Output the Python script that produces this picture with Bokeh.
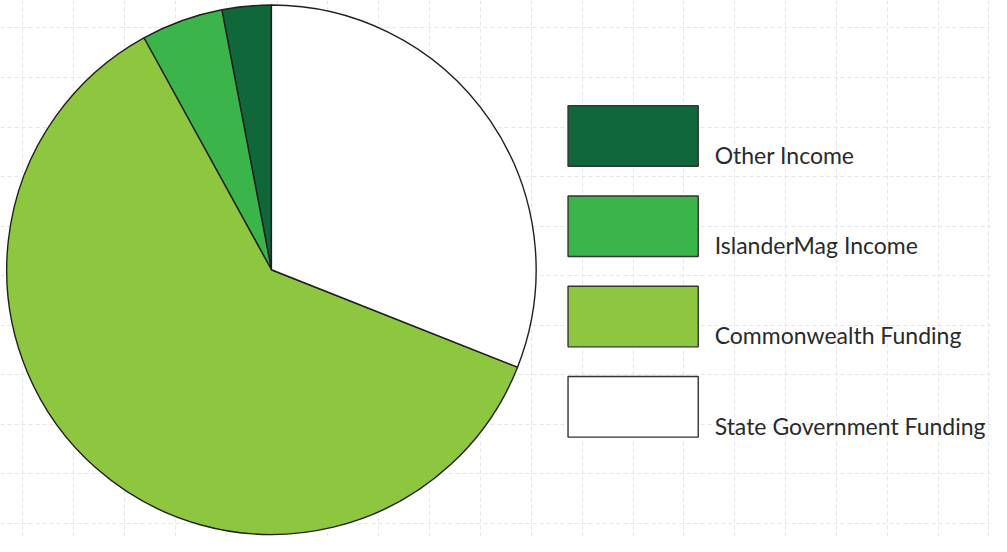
import numpy as np
from bokeh.plotting import figure
from bokeh.models import Range1d, FixedTicker, ColumnDataSource
from bokeh.core.properties import value
from bokeh.embed import file_html
from bokeh.resources import INLINE

# ---- data ----
categories = ["Other Income", "IslanderMag Income", "Commonwealth Funding", "State Government Funding"]
shares = [3, 5, 61, 31]
colors = ["#10673a", "#3bb54a", "#8dc63f", "#ffffff"]

W, H = 1007, 552  # reference frame; screen y flipped into data y

p = figure(width=991, height=536, output_backend="svg", toolbar_location=None,
           x_range=Range1d(0, W), y_range=Range1d(0, H),
           min_border=0)
p.axis.visible = False
p.outline_line_color = None
p.background_fill_color = "white"
p.border_fill_color = "white"

# faint dashed background grid
xt = list(22.7 + 51.67 * np.arange(0, 20))
yt = list(H - (28.3 + 51.0 * np.arange(0, 11)))
p.xgrid.ticker = FixedTicker(ticks=xt)
p.ygrid.ticker = FixedTicker(ticks=yt)
for g in (p.xgrid, p.ygrid):
    g.grid_line_color = "#e4e6ee"
    g.grid_line_dash = "4 3"
    g.grid_line_width = 1

# pie
vals = np.array(shares, dtype=float)
frac = vals / vals.sum()
cum = np.concatenate([[0], np.cumsum(frac)])
start = np.pi / 2 + 2 * np.pi * cum[:-1]
end = np.pi / 2 + 2 * np.pi * cum[1:]
src = ColumnDataSource(dict(cat=categories, start=start, end=end, color=colors))
p.wedge(x=275.3, y=H - 277.3, radius=269, start_angle="start", end_angle="end",
        fill_color="color", line_color="#231f20", line_width=1.4, source=src)

# legend
n = len(categories)
idx = np.arange(n)
tops = 108.3 + 93.0 * idx
bh = 62.4
lsrc = ColumnDataSource(dict(
    x=[642.85] * n, y=list(H - (tops + bh / 2)), color=colors,
    tx=[725.7] * n, ty=list(H - (tops + bh - 12)), label=categories))
p.rect(x="x", y="y", width=132.3, height=bh, fill_color="color",
       line_color="#333333", line_width=1.4, source=lsrc)
p.text(x="tx", y="ty", text="label", text_font=value("Lato"), text_font_size="23px",
       text_color="#2a2a2a", text_baseline="alphabetic", text_align="left", source=lsrc)

open("out.html", "w").write(file_html(p, INLINE))
